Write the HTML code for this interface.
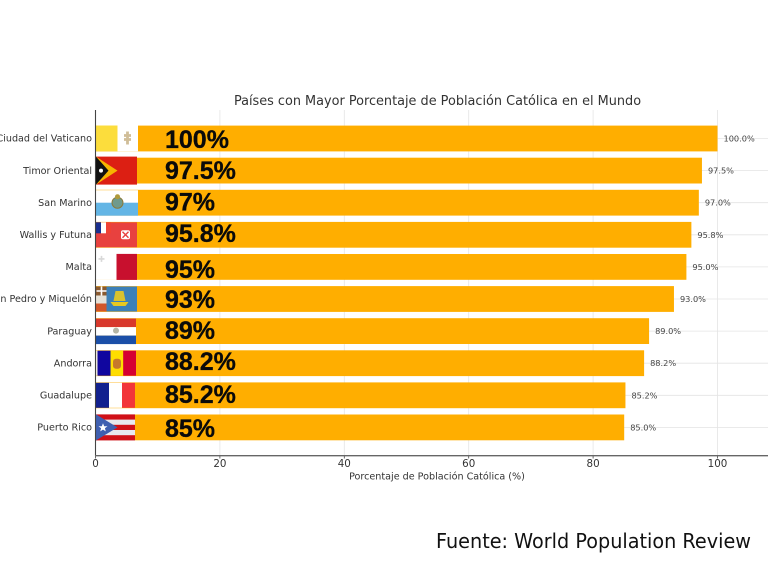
<!DOCTYPE html>
<html lang="es">
<head>
<meta charset="utf-8">
<title>Países con Mayor Porcentaje de Población Católica en el Mundo</title>
<style>
html,body{margin:0;padding:0;background:#fff;width:768px;height:576px;overflow:hidden}
svg{display:block;filter:blur(0.35px)}
text{font-family:"DejaVu Sans","Liberation Sans",sans-serif}
.big-label{font-family:"Liberation Sans",sans-serif;font-size:25px;font-weight:700;fill:#0a0a0a;stroke:#0a0a0a;stroke-width:0.3}
</style>
</head>
<body>
<svg id="chart" xmlns="http://www.w3.org/2000/svg" width="768" height="576" viewBox="0 0 768 576">
  <rect width="768" height="576" fill="#fff"/>
  <g id="grid"></g>
  <g id="bars"></g>
  <g id="flags">
    <g class="flag">
      <rect x="0.5" y="-13" width="21.5" height="25.8" fill="#fcdd3c"/>
      <rect x="22" y="-13" width="20.5" height="25.8" fill="#fff"/>
      <path d="M32 -7v13M28.5 -3h7M28.5 1h7" stroke="#d0bd98" stroke-width="2.8" fill="none"/>
    </g>
    <g class="flag">
      <rect x="0.5" y="-14" width="41" height="28" fill="#dc1f13"/>
      <path d="M0.5 -14L22 0L0.5 14Z" fill="#f7b500"/>
      <path d="M0.5 -14L13 0L0.5 14Z" fill="#111"/>
      <circle cx="5.5" cy="0" r="2" fill="#fff"/>
    </g>
    <g class="flag">
      <rect x="0.5" y="-12.5" width="42" height="13" fill="#fff"/>
      <rect x="0.5" y="0" width="42" height="13" fill="#63b5e5"/>
      <circle cx="22" cy="0" r="5.5" fill="#6f9a8c" stroke="#8a7a3a"/>
      <circle cx="22" cy="-6" r="2.5" fill="#b09a3a"/>
    </g>
    <g class="flag">
      <rect x="0.5" y="-12.5" width="41" height="25" fill="#e8413f"/>
      <rect x="0.5" y="-12.5" width="5" height="11" fill="#1a2f8f"/>
      <rect x="5.5" y="-12.5" width="5" height="11" fill="#fff"/>
      <rect x="10.5" y="-12.5" width="5" height="11" fill="#ef4135"/>
      <rect x="25.5" y="-4.5" width="9" height="9" rx="2" fill="#fff"/>
      <path d="M27 -3L33 3M33 -3L27 3" stroke="#e8413f" stroke-width="1.4"/>
    </g>
    <g class="flag">
      <rect x="0.5" y="-13" width="21" height="26" fill="#fff"/>
      <rect x="21" y="-13" width="20.5" height="26" fill="#c8102e"/>
      <path d="M6 -11v6M3 -8h6" stroke="#d8d8d8" stroke-width="1.6"/>
    </g>
    <g class="flag">
      <rect x="0.5" y="-12.5" width="41" height="25" fill="#3c80b8"/>
      <rect x="0.5" y="-12.5" width="10.5" height="9" fill="#8a5a30"/>
      <path d="M6 -12.5v9M1 -8h10" stroke="#fff" stroke-width="1.6"/>
      <rect x="0.5" y="-3.5" width="10.5" height="8" fill="#e6e2d8"/>
      <rect x="0.5" y="4.5" width="10.5" height="8" fill="#d2562a"/>
      <path d="M15 3H33L30 7H18Z" fill="#e8c820"/>
      <path d="M18 2L20 -8H28L30 2Z" fill="#d9c22e"/>
    </g>
    <g class="flag">
      <rect x="0.5" y="-12.5" width="40" height="8.5" fill="#d8392c"/>
      <rect x="0.5" y="-4" width="40" height="8.5" fill="#fff"/>
      <rect x="0.5" y="4.5" width="40" height="8.5" fill="#1b4fa8"/>
      <circle cx="20.5" cy="-0.5" r="3" fill="#b5b5a5"/>
    </g>
    <g class="flag">
      <rect x="0.5" y="-12.5" width="2" height="25" fill="#f3efe0"/>
      <rect x="2" y="-12.5" width="13" height="25" fill="#10069f"/>
      <rect x="15" y="-12.5" width="12.7" height="25" fill="#fedd00"/>
      <rect x="27.7" y="-12.5" width="12.8" height="25" fill="#d50032"/>
      <rect x="17.5" y="-4.5" width="8" height="10" rx="3" fill="#c7782a"/>
    </g>
    <g class="flag">
      <rect x="0.5" y="-12.5" width="13" height="25" fill="#12218f"/>
      <rect x="13.5" y="-12.5" width="13" height="25" fill="#fff"/>
      <rect x="26.5" y="-12.5" width="13" height="25" fill="#f2353a"/>
    </g>
    <g class="flag">
      <rect x="0.5" y="-13" width="39" height="26" fill="#e8e8ee"/>
      <rect x="0.5" y="-13" width="39" height="5.2" fill="#d01018"/>
      <rect x="0.5" y="-2.6" width="39" height="5.2" fill="#d01018"/>
      <rect x="0.5" y="7.8" width="39" height="5.2" fill="#d01018"/>
      <path d="M0.5 -13L22 0L0.5 13Z" fill="#3f5fb0"/>
      <path d="M7.5 -4.2L8.7 -1.2L12 -1.1L9.4 0.9L10.3 4L7.5 2.2L4.7 4L5.6 0.9L3 -1.1L6.3 -1.2Z" fill="#fff"/>
    </g>
  </g>
  <g id="big-labels">
    <text class="big-label" x="165" y="148"></text>
    <text class="big-label" x="165" y="179"></text>
    <text class="big-label" x="165" y="210.5"></text>
    <text class="big-label" x="165" y="242"></text>
    <text class="big-label" x="165" y="278"></text>
    <text class="big-label" x="165" y="308"></text>
    <text class="big-label" x="165" y="339"></text>
    <text class="big-label" x="165" y="370"></text>
    <text class="big-label" x="165" y="403"></text>
    <text class="big-label" x="165" y="437"></text>
  </g>
  <g id="value-labels"></g>
  <g id="axes"></g>
  <text x="437.5" y="105" text-anchor="middle" font-size="12.85" fill="#333">Países con Mayor Porcentaje de Población Católica en el Mundo</text>
  <text x="437" y="479.5" text-anchor="middle" font-size="9.6" fill="#333">Porcentaje de Población Católica (%)</text>
  <text x="436" y="548" font-size="20" fill="#111" textLength="315" lengthAdjust="spacingAndGlyphs">Fuente: World Population Review</text>
</svg>
<script>
const categories = ["Ciudad del Vaticano","Timor Oriental","San Marino","Wallis y Futuna","Malta","San Pedro y Miquelón","Paraguay","Andorra","Guadalupe","Puerto Rico"];
const percentValues = [100, 97.5, 97, 95.8, 95, 93, 89, 88.2, 85.2, 85];
const bigLabels = ["100%","97.5%","97%","95.8%","95%","93%","89%","88.2%","85.2%","85%"];
const xTicks = [0, 20, 40, 60, 80, 100];

const NS = "http://www.w3.org/2000/svg";
function xScale(v){ return 95.5 + v * 6.22; }
function yScale(i){ return 138.5 + i * 32.1; }
function make(tag, parent, props, txt){
  const el = document.createElementNS(NS, tag);
  for (const k in props) el.setAttribute(k, props[k]);
  if (txt !== undefined) el.textContent = txt;
  parent.appendChild(el);
  return el;
}
const grid = document.getElementById("grid");
const bars = document.getElementById("bars");
const valG = document.getElementById("value-labels");
const axes = document.getElementById("axes");

xTicks.forEach(function(t){
  const gl = make("line", grid, {x1:xScale(t), x2:xScale(t), y1:110, y2:455, stroke:"#e4e4e4", "stroke-width":0.8});
  
  
  const tk = make("line", axes, {x1:xScale(t), x2:xScale(t), y1:455, y2:458.5, stroke:"#444", "stroke-width":0.8});
  
  
  const lb = make("text", axes, {x:xScale(t), y:467, "text-anchor":"middle", "font-size":10.3, fill:"#333"}, String(t));
  
  
});

categories.forEach(function(name, i){
  const cy = yScale(i);
  const gl = make("line", grid, {x1:95.5, x2:768, y1:cy, y2:cy, stroke:"#e4e4e4", "stroke-width":0.8});
  
  
  const bar = make("rect", bars, {x:xScale(0), y:cy-12.9, width:xScale(percentValues[i])-xScale(0), height:25.8, fill:"#ffae00"});
  
  
  const val = make("text", valG, {x:xScale(percentValues[i])+6, y:cy+3, "font-size":8.2, fill:"#444"}, percentValues[i].toFixed(1) + "%");
  
  
  const cat = make("text", axes, {x:92, y:cy+3.2, "text-anchor":"end", "font-size":9.6, fill:"#333"}, name);
  
  
});

Array.from(document.querySelectorAll("#big-labels .big-label")).forEach(function(t, i){
  t.textContent = bigLabels[i];
});
Array.from(document.querySelectorAll("#flags .flag")).forEach(function(f, i){
  f.setAttribute("transform", "translate(95.5," + yScale(i) + ")");
});

const ySpine = make("line", axes, {x1:95.5, x2:95.5, y1:110, y2:456, stroke:"#444", "stroke-width":1.1});


const xSpine = make("line", axes, {x1:95, x2:768, y1:455.7, y2:455.7, stroke:"#666", "stroke-width":1.4});


</script>
</body>
</html>
